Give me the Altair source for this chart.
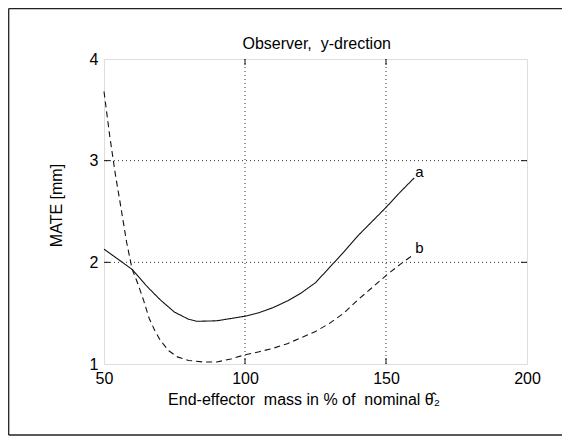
import altair as alt
import pandas as pd

# ---- data ----
x_a = [50, 53, 56, 60, 65, 70, 75, 80, 83, 90, 100, 105, 110, 115, 120, 125, 130, 135, 140, 145, 150, 155, 160]
y_a = [2.13, 2.07, 2.01, 1.93, 1.77, 1.63, 1.51, 1.44, 1.42, 1.425, 1.47, 1.505, 1.555, 1.62, 1.70, 1.80, 1.95, 2.10, 2.26, 2.40, 2.54, 2.69, 2.83]

x_b = [50, 52, 54, 56, 58, 60, 62, 64, 66, 68, 70, 73, 76, 80, 85, 90, 95, 100, 105, 110, 115, 120, 125, 130, 135, 140, 145, 150, 155, 160]
y_b = [3.68, 3.25, 2.87, 2.54, 2.20, 1.93, 1.79, 1.63, 1.45, 1.33, 1.23, 1.13, 1.07, 1.035, 1.02, 1.02, 1.05, 1.09, 1.12, 1.155, 1.20, 1.26, 1.32, 1.40, 1.50, 1.63, 1.75, 1.87, 1.98, 2.08]

series_names = ["a", "b"]
x_ticks = [50, 100, 150, 200]
y_ticks = [1, 2, 3, 4]
x_grid = [100, 150]
y_grid = [2, 3]

title_text = "Observer,\u00a0 y-drection"
x_title = "End-effector\u00a0 mass in % of\u00a0 nominal \u03b8\u0302\u2082"
y_title = "MATE [mm]"

# ---- layout ----
W, H = 423, 305
PAD_L, PAD_T, PAD_R, PAD_B = 96, 51, 35, 72
FONT = "Liberation Sans"
INK = "#111111"

lines_df = pd.DataFrame(
    {"x": x_a + x_b, "y": y_a + y_b, "s": ["a"] * len(x_a) + ["b"] * len(x_b)}
)
end_df = pd.DataFrame(
    {"x": [x_a[-1], x_b[-1]], "y": [y_a[-1], y_b[-1]], "s": series_names}
)

xs = alt.Scale(domain=[50, 200], nice=False, zero=False)
ys = alt.Scale(domain=[1, 4], nice=False, zero=False)

xgrid_df = pd.DataFrame({"g": x_grid})
ygrid_df = pd.DataFrame({"g": y_grid})

vgrid = alt.Chart(xgrid_df).mark_rule(color="#333", strokeDash=[1, 3], strokeWidth=1).encode(
    x=alt.X("g:Q", scale=xs)
)
hgrid = alt.Chart(ygrid_df).mark_rule(color="#333", strokeDash=[1, 3], strokeWidth=1).encode(
    y=alt.Y("g:Q", scale=ys)
)

tick_len = 6
xt_top = alt.Chart(xgrid_df).mark_rule(color=INK).encode(
    x=alt.X("g:Q", scale=xs), y=alt.value(0), y2=alt.value(tick_len)
)
xt_bot = alt.Chart(xgrid_df).mark_rule(color=INK).encode(
    x=alt.X("g:Q", scale=xs), y=alt.value(H - tick_len), y2=alt.value(H)
)
yt_left = alt.Chart(ygrid_df).mark_rule(color=INK).encode(
    y=alt.Y("g:Q", scale=ys), x=alt.value(0), x2=alt.value(tick_len)
)
yt_right = alt.Chart(ygrid_df).mark_rule(color=INK).encode(
    y=alt.Y("g:Q", scale=ys), x=alt.value(W - tick_len), x2=alt.value(W)
)

lines = alt.Chart(lines_df).mark_line(color=INK, strokeWidth=1.1).encode(
    x=alt.X(
        "x:Q",
        scale=xs,
        axis=alt.Axis(
            values=x_ticks,
            format="d",
            title=x_title,
            grid=False,
            ticks=False,
            domain=False,
            labelFlush=False,
            labelPadding=6,
            labelFontSize=16,
            labelFont=FONT,
            labelColor="black",
            titleFont=FONT,
            titleFontSize=16,
            titleFontWeight="normal",
            titleColor="black",
            titlePadding=5,
            titleX=199.5,
            titleAlign="center",
        ),
    ),
    y=alt.Y(
        "y:Q",
        scale=ys,
        axis=alt.Axis(
            values=y_ticks,
            format="d",
            title=y_title,
            grid=False,
            ticks=False,
            domain=False,
            labelFlush=False,
            labelPadding=6,
            labelFontSize=16,
            labelFont=FONT,
            labelColor="black",
            titleFont=FONT,
            titleFontSize=16,
            titleFontWeight="normal",
            titleColor="black",
            titlePadding=25,
            titleY=146,
            titleAlign="center",
        ),
    ),
    strokeDash=alt.StrokeDash(
        "s:N",
        scale=alt.Scale(domain=series_names, range=[[1, 0], [6, 4]]),
        legend=None,
    ),
    order=alt.Order("x:Q"),
)

labels = alt.Chart(end_df).mark_text(
    align="left", baseline="bottom", dx=1, dy=2, fontSize=15, font=FONT, color="black"
).encode(x=alt.X("x:Q", scale=xs), y=alt.Y("y:Q", scale=ys), text="s:N")

one = alt.Data(values=[{}])
title_mark = alt.Chart(one).mark_text(
    align="center", baseline="middle", fontSize=16, font=FONT, color="black"
).encode(x=alt.value(W / 2 + 1.2), y=alt.value(-15), text=alt.value(title_text))

frame_left = alt.Chart(one).mark_rule(color="#222", strokeWidth=1.3).encode(
    x=alt.value(-PAD_L + 0.7), y=alt.value(-PAD_T + 0.5), y2=alt.value(H + PAD_B - 1)
)
frame_top = alt.Chart(one).mark_rule(color="#222", strokeWidth=1.3).encode(
    x=alt.value(-PAD_L + 0.7), x2=alt.value(W + PAD_R), y=alt.value(-PAD_T + 0.7)
)
frame_bot = alt.Chart(one).mark_rule(color="#222", strokeWidth=1.3).encode(
    x=alt.value(-PAD_L + 0.7), x2=alt.value(W + PAD_R), y=alt.value(H + PAD_B - 1)
)

chart = (
    alt.layer(
        vgrid, hgrid, xt_top, xt_bot, yt_left, yt_right, lines, labels, title_mark,
        frame_left, frame_top, frame_bot,
    )
    .properties(
        width=W,
        height=H,
        autosize=alt.AutoSizeParams(type="none"),
        padding={"left": PAD_L, "top": PAD_T, "right": PAD_R, "bottom": PAD_B},
    )
    .configure_view(stroke="#111", strokeWidth=1.2)
    .configure(background="white")
)

chart.save("out.html", embed_options={"renderer": "svg", "actions": False})
